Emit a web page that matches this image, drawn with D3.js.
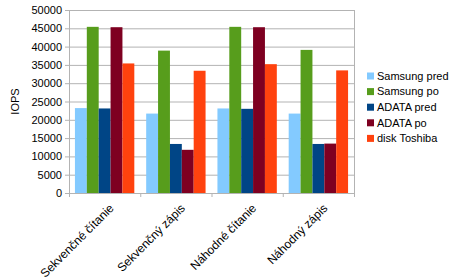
<!DOCTYPE html>
<html>
<head>
<meta charset="utf-8">
<script src="https://cdn.jsdelivr.net/npm/d3@7"></script>
<style>
  body { margin: 0; background: #fff; }
  text { font-family: "Liberation Sans", Arial, sans-serif; fill: #000; }
</style>
</head>
<body>
<div id="chart"></div>
<script>
// data
const categories = ['Sekvenčné čítanie', 'Sekvenčný zápis', 'Náhodné čítanie', 'Náhodný zápis'];
const seriesNames = ['Samsung pred', 'Samsung po', 'ADATA pred', 'ADATA po', 'disk Toshiba'];
const samsungPred = [23200, 21700, 23100, 21700];
const samsungPo = [45400, 38900, 45400, 39100];
const adataPred = [23100, 13400, 23000, 13400];
const adataPo = [45300, 11800, 45300, 13500];
const toshiba = [35400, 33400, 35200, 33500];
const yTicks = [0, 5000, 10000, 15000, 20000, 25000, 30000, 35000, 40000, 45000, 50000];
const colors = ['#83caff', '#579d1c', '#004586', '#7e0021', '#ff420e'];

const series = [samsungPred, samsungPo, adataPred, adataPo, toshiba];

const width = 462, height = 278;
const margin = [10, 85, 69, 108]; // top, bottom, left, right

const svg = d3.select('#chart').append('svg')
    .attr('width', width)
    .attr('height', height);

const chartW = width - margin[2] - margin[3],
      chartH = height - margin[0] - margin[1];

const scaleX = d3.scaleBand(categories, [0, chartW]).paddingInner(0).paddingOuter(0);
const scaleSub = d3.scaleBand(d3.range(series.length), [0, scaleX.bandwidth()])
    .paddingInner(0).paddingOuter(0.5);
const scaleY = d3.scaleLinear([0, 50000], [chartH, 0]);

const chart = svg.append('g')
    .attr('transform', `translate(${margin[2]}, ${margin[0]})`);

// gridlines
chart.selectAll('line.grid')
    .data(yTicks)
    .join('line')
    .attr('x1', 0).attr('x2', chartW)
    .attr('y1', d => scaleY(d) + 0.5).attr('y2', d => scaleY(d) + 0.5)
    .attr('stroke', '#b3b3b3');

// right border
chart.append('line')
    .attr('x1', chartW + 0.5).attr('x2', chartW + 0.5)
    .attr('y1', 0).attr('y2', chartH)
    .attr('stroke', '#b3b3b3');

// bars
const groups = chart.selectAll('g.group')
    .data(categories)
    .join('g')
    .attr('transform', d => `translate(${scaleX(d)}, 0)`);

groups.selectAll('rect')
    .data((c, i) => series.map((s, k) => ({ k, v: s[i] })))
    .join('rect')
    .attr('x', d => scaleSub(d.k))
    .attr('y', d => scaleY(d.v))
    .attr('width', scaleSub.bandwidth())
    .attr('height', d => scaleY(0) - scaleY(d.v))
    .attr('fill', d => colors[d.k]);

// y axis
const axisY = chart.append('g')
    .call(d3.axisLeft(scaleY).tickValues(yTicks).tickSize(4).tickPadding(3).tickFormat(d3.format('d')));
axisY.select('.domain').attr('stroke', '#b3b3b3');
axisY.selectAll('.tick line').attr('stroke', '#b3b3b3');
axisY.selectAll('text').style('font-size', '11px');
axisY.attr('font-family', null);

// x axis
const axisX = chart.append('g')
    .attr('transform', `translate(0, ${chartH})`);
axisX.append('line')
    .attr('x1', 0).attr('x2', chartW)
    .attr('y1', 0.5).attr('y2', 0.5)
    .attr('stroke', '#b3b3b3');
axisX.selectAll('line.tk')
    .data(d3.range(categories.length + 1))
    .join('line')
    .attr('x1', i => i * scaleX.step() + 0.5)
    .attr('x2', i => i * scaleX.step() + 0.5)
    .attr('y1', 0).attr('y2', 4)
    .attr('stroke', '#b3b3b3');
axisX.selectAll('text')
    .data(categories)
    .join('text')
    .attr('transform', d => `translate(${scaleX(d) + scaleX.bandwidth() / 2 + 4}, 10)rotate(-45)`)
    .style('text-anchor', 'end')
    .style('font-size', '12px')
    .attr('dy', '0.7em')
    .text(d => d);

// y label
svg.append('text')
    .attr('transform', `translate(19, ${margin[0] + chartH / 2})rotate(-90)`)
    .style('text-anchor', 'middle')
    .style('font-size', '11px')
    .text('IOPS');

// legend
const legend = svg.append('g')
    .attr('transform', 'translate(367, 76)');
const items = legend.selectAll('g')
    .data(seriesNames)
    .join('g')
    .attr('transform', (d, i) => `translate(0, ${i * 15.6})`);
items.append('rect')
    .attr('x', 0).attr('y', -3.5)
    .attr('width', 7).attr('height', 7)
    .attr('fill', (d, i) => colors[i]);
items.append('text')
    .attr('x', 10).attr('y', 0)
    .attr('dy', '0.35em')
    .style('font-size', '11px')
    .text(d => d);
</script>
</body>
</html>
